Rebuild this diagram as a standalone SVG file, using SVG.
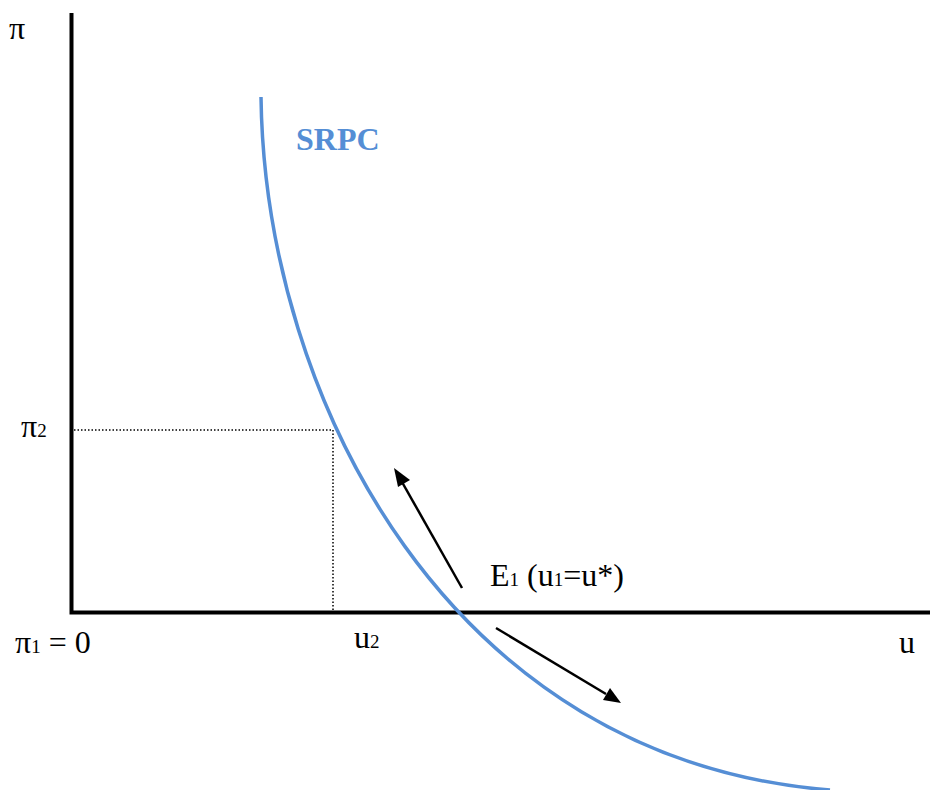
<svg xmlns="http://www.w3.org/2000/svg" width="930" height="790" viewBox="0 0 930 790">
<style>
.t{font-family:"Liberation Serif","Times New Roman",serif;font-size:32px;fill:#000}
.s{font-size:19px}
.ax{stroke:#000;stroke-width:4;fill:none}
.dot{stroke:#000;stroke-width:1.5;stroke-dasharray:1.5 2;fill:none}
.ln{stroke:#000;stroke-width:2.5;fill:none}
</style>
<rect width="930" height="790" fill="#fff"/>
<g id="axes">
<path class="ax" d="M71.5,13 V612.5 H930"/>
</g>
<g id="connectors">
<path class="dot" d="M74,430 H333 V611"/>
<path class="ln" d="M462,588 L402,482"/>
<path d="M394,468 L410,480 L398,487 z" fill="#000"/>
<path class="ln" d="M496,628 L606,694"/>
<path d="M621,703 L603,700 L610,688 z" fill="#000"/>
</g>
<g id="curve">
<path d="M261,97 C265,400 450,760 830,790" stroke="#558ED5" stroke-width="3.5" fill="none"/>
<text x="296" y="150" style="font-family:'Liberation Serif','Times New Roman',serif;font-size:32px;font-weight:bold;fill:#558ED5">SRPC</text>
</g>
<g id="labels">
<text class="t" x="9" y="39">π</text>
<text class="t" x="21" y="437">π<tspan class="s">2</tspan></text>
<text class="t" x="15" y="653">π<tspan class="s">1</tspan> = 0</text>
<text class="t" x="354" y="648">u<tspan class="s">2</tspan></text>
<text class="t" x="899" y="653">u</text>
<text class="t" x="490" y="586">E<tspan class="s">1</tspan> (u<tspan class="s">1</tspan>=u*)</text>
</g>
</svg>
